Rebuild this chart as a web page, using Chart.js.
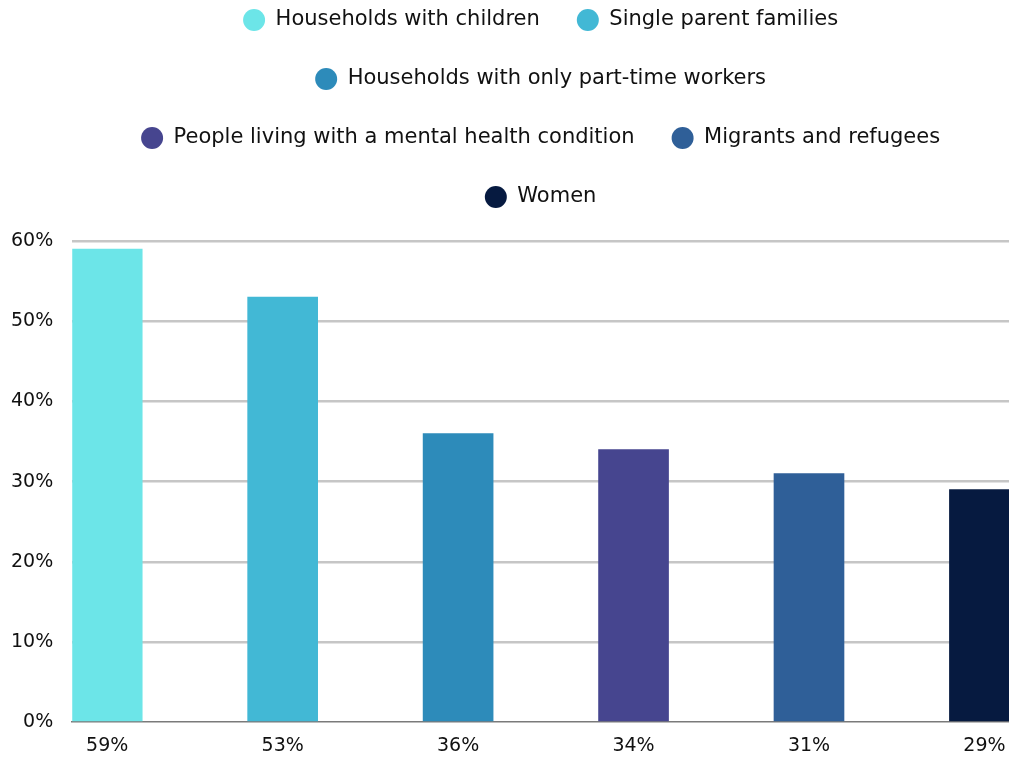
<!DOCTYPE html>
<html>
<head>
<meta charset="utf-8">
<script src="https://cdn.jsdelivr.net/npm/chart.js@4.4.1/dist/chart.umd.min.js"></script>
<style>
  html, body { margin: 0; padding: 0; background: #ffffff; }
  #wrap { width: 1009px; height: 758px; }
</style>
</head>
<body>
<div id="wrap"><canvas id="barChart"></canvas></div>
<script>
// === data ===
const groups = [
    "Households with children",
    "Single parent families",
    "Households with only part-time workers",
    "People living with a mental health condition",
    "Migrants and refugees",
    "Women"
];
const shares = [59, 53, 36, 34, 31, 29];
const xTickLabels = ["59%", "53%", "36%", "34%", "31%", "29%"];
const yTicks = [0, 10, 20, 30, 40, 50, 60];
const barColors = ["#6ce5e8", "#42b8d5", "#2d8bba", "#46458f", "#2f5f98", "#061a40"];

const FONT = "'DejaVu Sans', sans-serif";

// extra room between legend and plot
const legendGap = {
    id: "legendGap",
    beforeInit(chart) {
        const fit = chart.legend.fit;
        chart.legend.fit = function () {
            fit.call(this);
            this.height += 23;
        };
    }
};

const datasets = groups.map((name, i) => ({
    label: name,
    data: [{ x: i, y: shares[i] }],
    backgroundColor: barColors[i],
    borderWidth: 0,
    barThickness: 70,
    grouped: false
}));

const ctx = document.getElementById("barChart").getContext("2d");
new Chart(ctx, {
    type: "bar",
    data: { datasets: datasets },
    plugins: [legendGap],
    options: {
        responsive: true,
        maintainAspectRatio: false,
        animation: false,
        layout: { padding: { top: -28, left: -8, right: 0, bottom: 1 } },
        plugins: {
            legend: {
                position: "top",
                fullSize: false, // legend centred over the plot area
                labels: {
                    boxWidth: 22,
                    boxHeight: 22,
                    useBorderRadius: true,
                    borderRadius: 11,
                    padding: 37,
                    color: "#111111",
                    font: { family: FONT, size: 21 }
                }
            },
            tooltip: { enabled: false }
        },
        scales: {
            x: {
                type: "linear",
                offset: false,
                min: -0.1994,
                max: 5.14,
                grid: { display: false, tickLength: 12 },
                border: { display: true, color: "#7a7a7a", width: 1.5 },
                afterBuildTicks: (axis) => {
                    axis.ticks = xTickLabels.map((_, i) => ({ value: i }));
                },
                ticks: {
                    padding: 0,
                    color: "#111111",
                    font: { family: FONT, size: 19 },
                    callback: (v) => xTickLabels[v]
                }
            },
            y: {
                min: yTicks[0],
                max: yTicks[yTicks.length - 1],
                afterBuildTicks: (axis) => {
                    axis.ticks = yTicks.map((v) => ({ value: v }));
                },
                grid: {
                    drawTicks: false,
                    lineWidth: 2.5,
                    color: (c) => (c.tick && c.tick.value === 0 ? "rgba(0,0,0,0)" : "#c6c6c6")
                },
                border: { display: false },
                ticks: {
                    padding: 19,
                    color: "#111111",
                    font: { family: FONT, size: 19 },
                    callback: (v) => v + "%"
                }
            }
        }
    }
});
</script>
</body>
</html>
